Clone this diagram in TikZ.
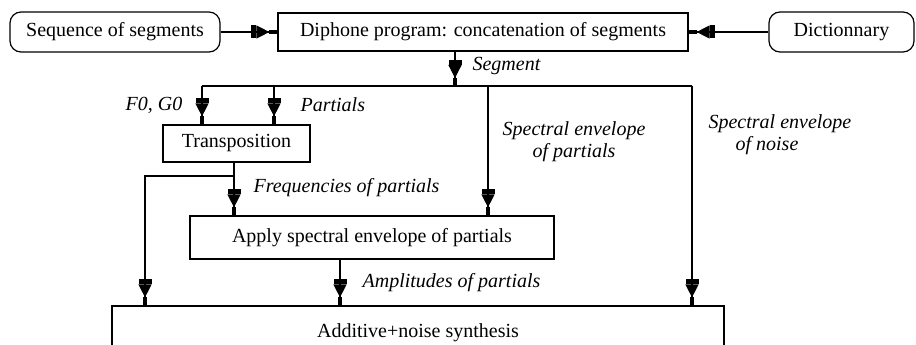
\documentclass[tikz,border=0pt]{standalone}
\usepackage{fontspec}
\setmainfont{Liberation Serif}
\usetikzlibrary{arrows.meta}
\tikzset{
  arrtip/.tip={Rectangle[length=5pt,width=13pt] Triangle[length=13pt,width=13pt] Rectangle[length=8pt,width=4.5pt]},
  arr/.style={-arrtip},
  box/.style={draw, minimum width=#1},
  rbox/.style={draw, rounded corners=11pt, minimum width=#1},
  lbl/.style={font=\fontsize{20}{22}\selectfont\itshape}
}
\begin{document}
\begin{tikzpicture}[x=1pt,y=-1pt,
  line width=1.2pt,
  every node/.style={font=\fontsize{20}{22}\selectfont, inner sep=0pt}]
\useasboundingbox (0,0) rectangle (916,345);
% nodes
\node[rbox=210, minimum height=40] (seq) at (115,32) {Sequence of segments};
\node[box=410, minimum height=38] (diph) at (483,32) {Diphone program: concatenation of segments};
\node[rbox=145, minimum height=40] (dict) at (841.5,32) {Dictionnary};
\node[box=147, minimum height=37] (trans) at (236.5,143.5) {Transposition};
\node[box=364, minimum height=43] (apply) at (372,237.5) {Apply spectral envelope of partials};
\node[box=612, minimum height=54] (synth) at (418,333) {Additive+noise synthesis};
% junction coordinates
\coordinate (j) at (455,86);
\coordinate (jl) at (202,86);
\coordinate (jp) at (274,86);
\coordinate (js) at (488,86);
\coordinate (jr) at (692,86);
\coordinate (tb) at (234,176);
\coordinate (tl) at (145,176);
% connectors
\draw[arr] (seq) -- (diph);
\draw[arr] (dict) -- (diph);
\draw[arr] (diph.south -| j) -- (j);
\draw (jl) -- (jr);
\draw[arr] (jl) -- (jl |- trans.north);
\draw[arr] (jp) -- (jp |- trans.north);
\draw[arr] (trans.south -| tb) -- (tb |- apply.north);
\draw[arr] (tb) -- (tl) -- (tl |- synth.north);
\draw[arr] (js) -- (js |- apply.north);
\draw[arr] (apply.south -| 340,0) -- (340,0 |- synth.north);
\draw[arr] (jr) -- (jr |- synth.north);
% labels
\node[lbl, anchor=west] (lseg) at (472,66) {Segment};
\node[lbl, anchor=east] (lf0) at (183,105) {F0, G0};
\node[lbl, anchor=west] (lpart) at (300,105) {Partials};
\node[lbl, align=center] (lsep) at (574,142) {Spectral envelope\\of partials};
\node[lbl, align=left, anchor=north west] (lsen) at (708,114) {Spectral envelope\\\hspace*{27pt}of noise};
\node[lbl, anchor=west] (lfreq) at (253,188) {Frequencies of partials};
\node[lbl, anchor=west] (lamp) at (362,283) {Amplitudes of partials};
\end{tikzpicture}
\end{document}
